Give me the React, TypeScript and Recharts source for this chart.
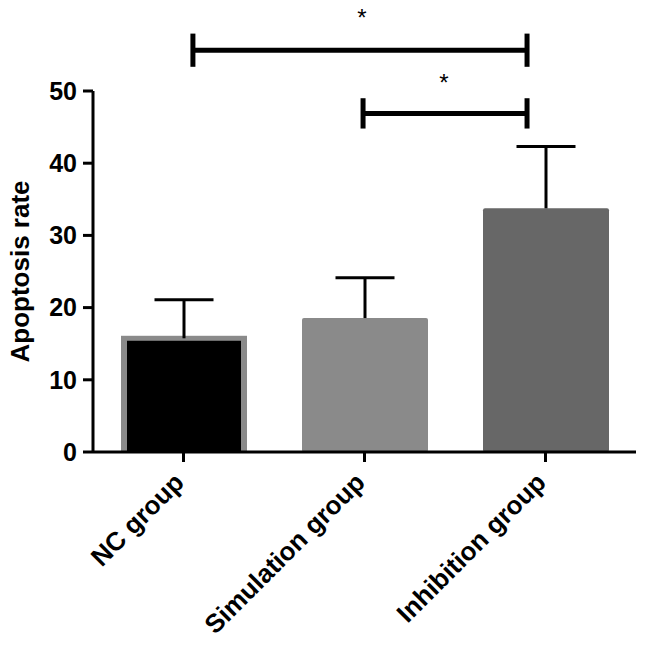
import React from 'react';
import { BarChart, Bar, XAxis, YAxis, ReferenceLine, ReferenceDot } from 'recharts';

const groups = ['NC group', 'Simulation group', 'Inhibition group'];
const groupPos = [0.5, 1.5, 2.5];
const means = [15.75, 18.55, 33.75];
const sds = [5.35, 5.6, 8.55];
const fills = ['#000000', '#8a8a8a', '#676767'];
const yTicks = [0, 10, 20, 30, 40, 50];

// significance brackets (x in category units: category i spans [i, i+1])
const bracketFrom = [0.552, 1.492];
const bracketTo = [2.398, 2.398];
const bracketY = [55.65, 46.9];
const bracketHalf = [2.3, 2.1];
const starX = [1.486, 1.939];
const starY = [60.2, 51.2];
const starText = ['*', '*'];

const data = groups.map((g, i) => ({ group: g, pos: groupPos[i], value: means[i], sd: sds[i], fill: fills[i] }));

const FONT = '"Liberation Sans", Arial, sans-serif';

const BarShape = (props: any) => {
  const { x, y, width, height, payload, index } = props;
  const ppu = height / payload.value;
  const top = y - payload.sd * ppu;
  const cx = x + width / 2;
  const capHalf = 29.5;
  return (
    <g>
      {index === 0 ? (
        <g>
          <rect x={x} y={y - 2.5} width={width} height={height + 2.5} fill="#8a8a8a" />
          <rect x={x + 6} y={y + 2.5} width={width - 12} height={height - 2.5} fill={payload.fill} />
        </g>
      ) : (
        <rect x={x} y={y} width={width} height={height} fill={payload.fill} rx={2} ry={2} />
      )}
      <line x1={cx} x2={cx} y1={y} y2={top} stroke="#000" strokeWidth={3} />
      <line x1={cx - capHalf} x2={cx + capHalf} y1={top} y2={top} stroke="#000" strokeWidth={3} />
    </g>
  );
};

const XTick = (props: any) => {
  const { x, y, payload } = props;
  const px = x + 2;
  const py = y + 20;
  return (
    <text
      x={px}
      y={py}
      transform={`rotate(-45 ${px} ${py})`}
      textAnchor="end"
      fontSize={26}
      fontWeight="bold"
      fontFamily={FONT}
      fill="#000"
    >
      {payload.value}
    </text>
  );
};

const YLabel = (props: any) => {
  const vb = props.viewBox || { x: 0, y: 91, width: 93, height: 361 };
  const cx = 29;
  const cy = vb.y + vb.height / 2;
  return (
    <text
      x={cx}
      y={cy}
      transform={`rotate(-90 ${cx} ${cy})`}
      textAnchor="middle"
      fontSize={26}
      fontWeight="bold"
      fontFamily={FONT}
      fill="#000"
    >
      Apoptosis rate
    </text>
  );
};

export default function App() {
  return (
    <div style={{ position: 'absolute', left: 0, top: 0, background: '#fff' }}>
      <BarChart
        width={646}
        height={648}
        data={data}
        margin={{ top: 91, right: 10, bottom: 0, left: 0 }}
        barSize={126}
      >
        <XAxis
          dataKey="group"
          height={196}
          axisLine={{ stroke: '#000', strokeWidth: 3 }}
          tickLine={{ stroke: '#000', strokeWidth: 3 }}
          tickSize={10}
          tick={<XTick />}
          interval={0}
        />
        <XAxis xAxisId="b" dataKey="pos" type="number" domain={[0, 3]} hide allowDataOverflow />
        <YAxis
          width={93}
          domain={[0, 50]}
          ticks={yTicks}
          interval={0}
          axisLine={{ stroke: '#000', strokeWidth: 3 }}
          tickLine={{ stroke: '#000', strokeWidth: 3 }}
          tickSize={10}
          tickMargin={6}
          tick={{ fontSize: 25, fontWeight: 'bold', fill: '#000', fontFamily: FONT }}
          label={<YLabel />}
        />
        <Bar dataKey="value" isAnimationActive={false} shape={<BarShape />} />
        {bracketY.map((by, i) => (
          <ReferenceLine
            key={`h${i}`}
            xAxisId="b"
            ifOverflow="visible"
            segment={[{ x: bracketFrom[i], y: by }, { x: bracketTo[i], y: by }]}
            stroke="#000"
            strokeWidth={5}
          />
        ))}
        {bracketY.map((by, i) => (
          <ReferenceLine
            key={`l${i}`}
            xAxisId="b"
            ifOverflow="visible"
            segment={[{ x: bracketFrom[i], y: by - bracketHalf[i] }, { x: bracketFrom[i], y: by + bracketHalf[i] }]}
            stroke="#000"
            strokeWidth={5}
          />
        ))}
        {bracketY.map((by, i) => (
          <ReferenceLine
            key={`r${i}`}
            xAxisId="b"
            ifOverflow="visible"
            segment={[{ x: bracketTo[i], y: by - bracketHalf[i] }, { x: bracketTo[i], y: by + bracketHalf[i] }]}
            stroke="#000"
            strokeWidth={5}
          />
        ))}
        {starX.map((sx, i) => (
          <ReferenceDot
            key={`s${i}`}
            xAxisId="b"
            x={sx}
            y={starY[i]}
            r={0}
            ifOverflow="visible"
            fill="none"
            stroke="none"
            label={{ value: starText[i], position: 'center', fontSize: 24, fill: '#000', fontFamily: FONT }}
          />
        ))}
      </BarChart>
    </div>
  );
}
